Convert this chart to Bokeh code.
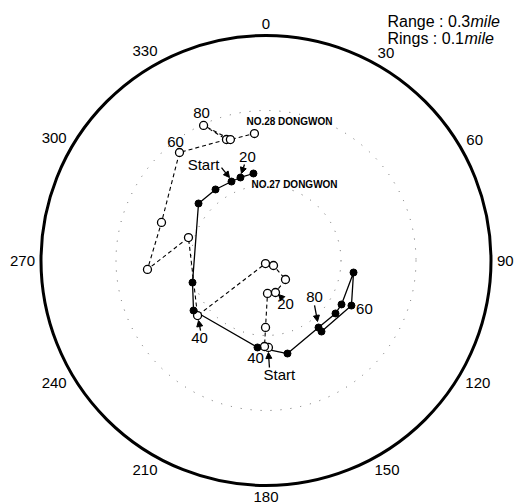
import math
from bokeh.plotting import figure
from bokeh.models import Range1d, Arrow, NormalHead
from bokeh.core.properties import value
from bokeh.embed import file_html
from bokeh.resources import INLINE

# ---------------- data (radar range in mile, bearing in degrees) ----------------
no28_range = [0.1160, 0.1147, 0.0893, 0.0440, 0.0445, 0.0363, 0.0120, 0.0041, 0.1171,
              0.1078, 0.1585, 0.1483, 0.1845, 0.1697, 0.1984, 0.1681, 0.1700]
no28_bearing = [178.4, 181.0, 180.4, 177.4, 163.5, 134.3, 123.7, 189.5, 231.2,
                286.5, 265.7, 290.0, 321.3, 341.9, 335.2, 343.6, 354.8]

no27_range = [0.1172, 0.1158, 0.1149, 0.1162, 0.1178, 0.1023, 0.1174, 0.1165,
              0.1273, 0.1135, 0.1165, 0.1165, 0.1178, 0.1288, 0.1202]
no27_bearing = [351.8, 342.9, 336.4, 324.6, 310.2, 253.3, 235.4, 185.6,
                167.0, 141.9, 127.3, 120.2, 97.8, 117.8, 142.0]

# time labels: (text, index of track point)
no28_marks = [("Start", 0), ("20", 4), ("40", 8), ("60", 12), ("80", 14)]
no27_marks = [("Start", 2), ("20", 1), ("40", 7), ("80", 9), ("60", 13)]

bearing_ticks = [0, 30, 60, 90, 120, 150, 180, 210, 240, 270, 300, 330]
bearing_labels = [str(b) for b in bearing_ticks]
max_range = 0.3
ring_step = 0.1

# ---------------- layout ----------------
S = 750.0            # px per mile
W, H = 518, 504
CX, CY = 265.5, 260.0
FONT = value("Liberation Sans")


def pol(r, b):
    t = math.radians(b)
    return r * math.sin(t), r * math.cos(t)


def off(pt, dx, dy):
    return pt[0] + dx / S, pt[1] - dy / S


def page(px, py):
    return (px - CX) / S, (CY - py) / S


p = figure(width=W, height=H, output_backend="svg", toolbar_location=None, tools="",
           x_range=Range1d(-CX / S, (W - CX) / S), y_range=Range1d(-(H - CY) / S, CY / S),
           min_border=0, x_axis_location=None, y_axis_location=None)
p.grid.visible = False
p.outline_line_color = None
p.background_fill_color = "white"

# rings
rings = [ring_step * k for k in range(1, int(round(max_range / ring_step)))]
p.circle(x=[0] * len(rings), y=[0] * len(rings), radius=rings, fill_color=None,
         line_color="#666666", line_width=1, line_dash="1 9")
p.circle(x=[0], y=[0], radius=[max_range], fill_color=None, line_color="black", line_width=3)

# tracks
p28 = [pol(r, b) for r, b in zip(no28_range, no28_bearing)]
p27 = [pol(r, b) for r, b in zip(no27_range, no27_bearing)]
x28, y28 = [a for a, _ in p28], [b for _, b in p28]
x27, y27 = [a for a, _ in p27], [b for _, b in p27]

p.line(x28, y28, line_color="black", line_width=1.1, line_dash="4 3")
p.line(x27, y27, line_color="black", line_width=1.3)
p.scatter(x28, y28, marker="circle", size=8, fill_color="white", line_color="black", line_width=1.3)
p.scatter(x27, y27, marker="circle", size=7, fill_color="black", line_color="black")

# bearing labels
R_px = max_range * S
bx, by = [], []
for b, lab in zip(bearing_ticks, bearing_labels):
    t = math.radians(b)
    hw = len(lab) * 0.556 * 15 / 2
    rl = R_px + 6 + hw * abs(math.sin(t)) + 5.5 * abs(math.cos(t))
    x, y = rl * math.sin(t) / S, rl * math.cos(t) / S
    y = max(y, -(H - 7 - CY) / S)
    x = min(x, (W - 4 - hw - CX) / S)
    bx.append(x)
    by.append(y)
p.text(x=bx, y=by, text=bearing_labels, text_font=FONT, text_font_size="15px",
       text_align="center", text_baseline="middle", text_color="black")

# time labels: offsets (text dx,dy ; arrow tail ; arrow tip) in px
styles28 = {
    "Start": ((11, 27), (1, 20), (0, 5)),
    "20": ((10, 11), (7, 6), (3, 2)),
    "40": ((2, 22), (3, 15), (1, 5)),
    "60": ((-4, -11), None, None),
    "80": ((-2, -12), None, None),
}
styles27 = {
    "Start": ((-28, -17), (-10, -14), (-2, -4)),
    "20": ((7, -20), (4, -13), (1, -4)),
    "40": ((-2, 11), None, None),
    "80": ((-4, -30), (-4, -22), (-1, -6)),
    "60": ((13, 3), None, None),
}

tx, ty, tt = [], [], []
for marks, pts, styles in ((no28_marks, p28, styles28), (no27_marks, p27, styles27)):
    for lab, idx in marks:
        (tdx, tdy), tail, tip = styles[lab]
        x, y = off(pts[idx], tdx, tdy)
        tx.append(x)
        ty.append(y)
        tt.append(lab)
        if tail is not None:
            xs, ys = off(pts[idx], *tail)
            xe, ye = off(pts[idx], *tip)
            p.add_layout(Arrow(end=NormalHead(size=6, fill_color="black", line_color="black", line_width=1),
                               x_start=xs, y_start=ys, x_end=xe, y_end=ye,
                               line_color="black", line_width=1.3))
p.text(x=tx, y=ty, text=tt, text_font=FONT, text_font_size="15px",
       text_align="center", text_baseline="middle", text_color="black")

# ship names
n28 = off(p28[-1], -8, -12)
n27 = off(p27[0], -2, 11)
p.text(x=[n28[0], n27[0]], y=[n28[1], n27[1]], text=["NO.28 DONGWON", "NO.27 DONGWON"],
       text_font=FONT, text_font_size="10px", text_font_style="bold",
       text_align="left", text_baseline="middle", text_color="black")

# range info
l1 = page(387, 21)
l2 = page(387, 38)
m1 = page(387 + 83, 21)
m2 = page(387 + 77, 38)
p.text(x=[l1[0], l2[0]], y=[l1[1], l2[1]], text=["Range : 0.3", "Rings : 0.1"],
       text_font=FONT, text_font_size="16px", text_align="left", text_baseline="alphabetic")
p.text(x=[m1[0], m2[0]], y=[m1[1], m2[1]], text=["mile", "mile"],
       text_font=FONT, text_font_size="16px", text_font_style="italic",
       text_align="left", text_baseline="alphabetic")

open("out.html", "w").write(file_html(p, INLINE))
